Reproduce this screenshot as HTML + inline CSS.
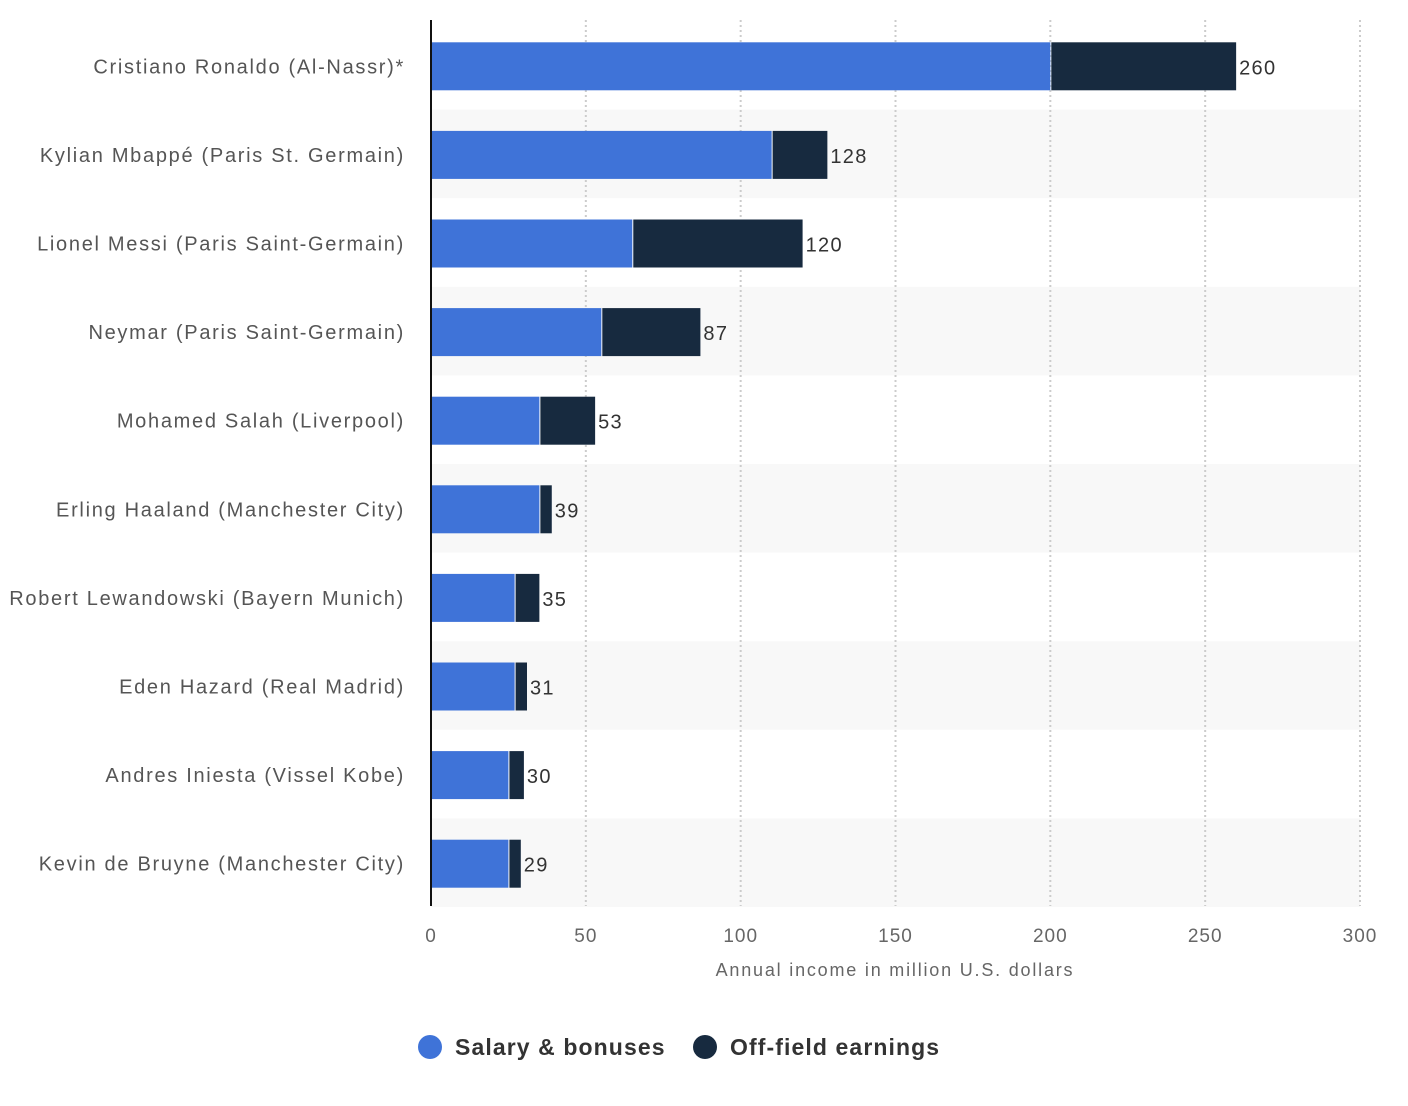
<!DOCTYPE html>
<html><head><meta charset="utf-8"><style>
body{margin:0;background:#fff;}
svg{display:block;font-family:"Liberation Sans","DejaVu Sans",sans-serif;}
</style></head><body>
<svg id="chart" width="1408" height="1106"></svg>
<script>
const categories=["Cristiano Ronaldo (Al-Nassr)*","Kylian Mbappé (Paris St. Germain)","Lionel Messi (Paris Saint-Germain)","Neymar (Paris Saint-Germain)","Mohamed Salah (Liverpool)","Erling Haaland (Manchester City)","Robert Lewandowski (Bayern Munich)","Eden Hazard (Real Madrid)","Andres Iniesta (Vissel Kobe)","Kevin de Bruyne (Manchester City)"];
const salary=[200,110,65,55,35,35,27,27,25,25];
const totals=[260,128,120,87,53,39,35,31,30,29];
const ticks=[0,50,100,150,200,250,300];
const NS="http://www.w3.org/2000/svg";
const svg=document.getElementById('chart');
const x0=431,x1=1360,plotTop=22,plotBottom=908;
const step=(plotBottom-plotTop)/categories.length;
function xs(v){return x0+v*(x1-x0)/300;}
function yc(i){return plotTop+step*i+step/2;}
function mk(t,a,p){const e=document.createElementNS(NS,t);for(const k in a)e.setAttribute(k,a[k]);(p||svg).appendChild(e);return e;}
categories.forEach((c,i)=>{if(i%2==1){const r=mk('rect',{x:x0,y:plotTop+step*i-1,width:x1-x0,height:step,fill:'#f8f8f8'});

}});
ticks.forEach(t=>{if(t>0){const l=mk('line',{x1:xs(t),x2:xs(t),y1:20,y2:906,stroke:'#cccccc','stroke-width':2,'stroke-dasharray':'2,3'});

}
const tx=mk('text',{x:xs(t),y:942,'text-anchor':'middle','font-size':19,fill:'#666','letter-spacing':'1'});tx.textContent=t;

});
categories.forEach((c,i)=>{const y=yc(i);
const lb=mk('text',{x:405,y:y+7,'text-anchor':'end','font-size':20,fill:'#555','letter-spacing':'1.7'});lb.textContent=c;


const b1=mk('rect',{x:x0+1,y:y-24,width:xs(salary[i])-x0-1,height:48,fill:'#3f73d8'});


const b2=mk('rect',{x:xs(salary[i])+1,y:y-24,width:xs(totals[i])-xs(salary[i])-1,height:48,fill:'#172a3f'});


const v=mk('text',{x:xs(totals[i])+3,y:y+8,'font-size':20,fill:'#333','letter-spacing':'1.3'});v.textContent=totals[i];

});
const ax=mk('line',{x1:x0,x2:x0,y1:20,y2:906,stroke:'#111','stroke-width':2});


const at=mk('text',{x:895,y:976,'text-anchor':'middle','font-size':18,fill:'#666','letter-spacing':'1.8'});at.textContent='Annual income in million U.S. dollars';


const lg=[['Salary & bonuses','#3f73d8',430],['Off-field earnings','#172a3f',705]];
lg.forEach(d=>{const g=mk('g',{});


mk('circle',{cx:d[2],cy:1047,r:12,fill:d[1]},g);
const t=mk('text',{x:d[2]+25,y:1055,'font-size':23,'font-weight':'bold',fill:'#333','letter-spacing':'1.1'},g);t.textContent=d[0];});
</script>
</body></html>
